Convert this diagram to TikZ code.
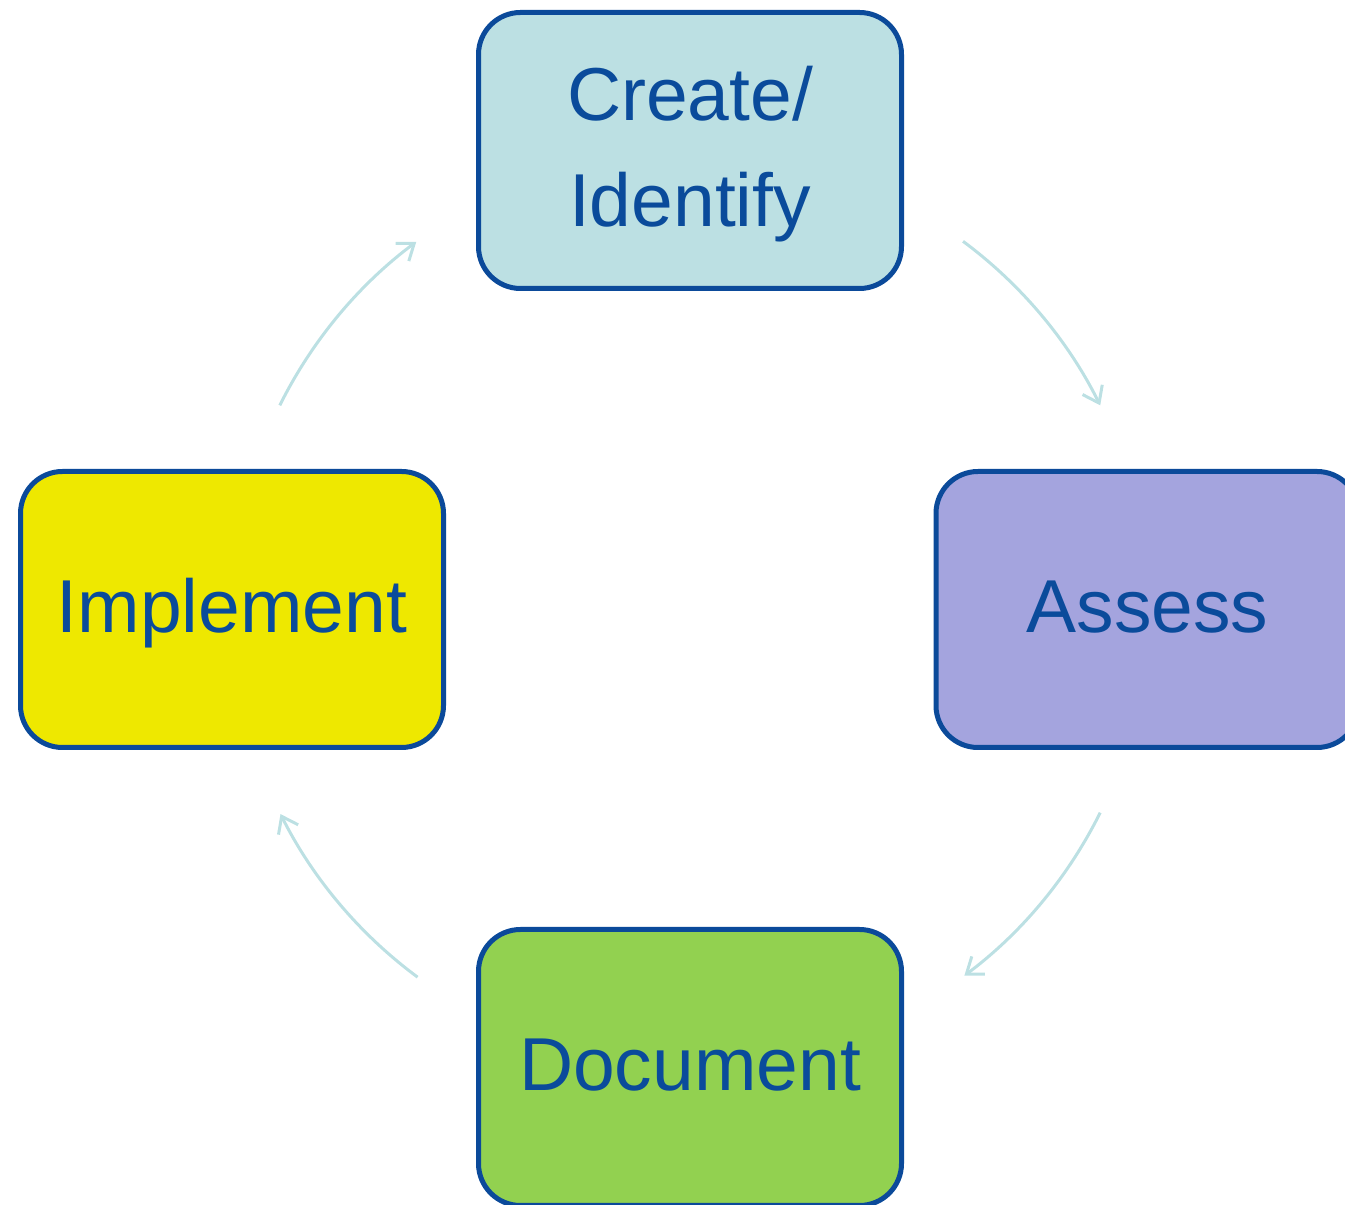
\documentclass[tikz,border=0pt]{standalone}
\usepackage{fontspec}
\setmainfont{Liberation Sans}
\usetikzlibrary{arrows.meta,calc}
\definecolor{edgeblue}{HTML}{0B4A9A}
\definecolor{txtblue}{HTML}{0A4B9B}
\definecolor{cfill}{HTML}{BCE0E3}
\definecolor{ifill}{HTML}{EEE800}
\definecolor{afill}{HTML}{A4A4DE}
\definecolor{dfill}{HTML}{92D150}
\definecolor{arrc}{HTML}{BCE0E3}
\begin{document}
\begin{tikzpicture}[x=1pt,y=1pt,
  stagebox/.style={draw=edgeblue, line width=5pt, rounded corners=42pt,
    minimum width=423pt, minimum height=276pt, inner sep=0pt,
    text=txtblue, font=\fontsize{75}{106}\selectfont, align=center},
  oneline/.style={text height=62pt, text depth=16pt},
  twoline/.style={text height=169pt, text depth=16pt},
  cyc/.style={draw=arrc, line width=3pt,
    -{Straight Barb[length=15pt,width=22pt,line width=3pt]}}]
\useasboundingbox (0,0) rectangle (1345,1205);
\node[stagebox, twoline, fill=cfill] (create) at (690,1054.5) {Create/\\Identify};
\node[stagebox, oneline, fill=ifill] (implement) at (232,595.5) {Implement};
\node[stagebox, oneline, fill=afill] (assess) at (1147.5,595.5) {Assess};
\node[stagebox, oneline, fill=dfill] (document) at (690,137.5) {Document};
\coordinate (ctr) at (690,596);
\coordinate (s1) at ($(ctr)+(53.4:458)$);
\coordinate (s2) at ($(ctr)+(-26.4:458)$);
\coordinate (s3) at ($(ctr)+(233.5:458)$);
\coordinate (s4) at ($(ctr)+(153.6:458)$);
\draw[cyc] (s1) arc[start angle=53.4, end angle=26.4, radius=458];
\draw[cyc] (s2) arc[start angle=-26.4, end angle=-53.2, radius=458];
\draw[cyc] (s3) arc[start angle=233.5, end angle=206.6, radius=458];
\draw[cyc] (s4) arc[start angle=153.6, end angle=126.7, radius=458];
\end{tikzpicture}
\end{document}
